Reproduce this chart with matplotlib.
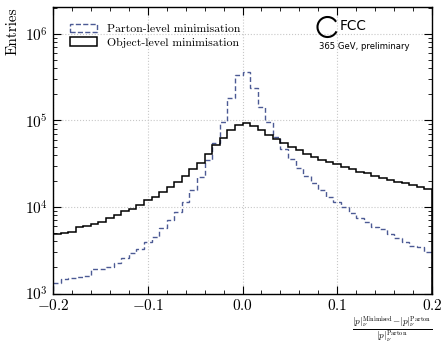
import numpy as np
import matplotlib
matplotlib.use("Agg")
import matplotlib.pyplot as plt
from matplotlib.patches import Arc, Patch
from matplotlib.ticker import MultipleLocator, LogLocator, NullFormatter

# ---- data ----
x_min, x_max, n_bins = -0.2, 0.2, 50
object_counts = [4830, 4970, 5180, 5820, 6080, 6360, 6710, 7470, 8090, 9070,
                 9560, 10600, 12050, 13150, 15030, 17170, 19600, 22800, 27300, 32500,
                 40600, 51600, 62200, 77100, 88700, 92900, 85800, 77700, 68500, 60700,
                 54500, 49400, 45200, 41300, 38200, 35200, 32900, 31200, 29000, 27300,
                 25400, 24500, 23000, 21800, 20500, 19600, 18800, 17900, 17000, 16000]
parton_counts = [1313, 1484, 1500, 1564, 1580, 1905, 1920, 2043, 2270, 2594,
                 2915, 3270, 3970, 4540, 5680, 7080, 8830, 11300, 15700, 22400,
                 34900, 54500, 95300, 180500, 336000, 361000, 235500, 144500, 95300, 65000,
                 46900, 35900, 28500, 22800, 19100, 15700, 13200, 11500, 9920, 8590,
                 7400, 6650, 5820, 5520, 4880, 4350, 3910, 3540, 3420, 2990]
labels = ["Parton-level minimisation", "Object-level minimisation"]
x_ticks = [-0.2, -0.1, 0.0, 0.1, 0.2]
x_tick_labels = [r"$-0.2$", r"$-0.1$", r"$0.0$", r"$0.1$", r"$0.2$"]

plt.rcParams.update({
    "font.family": "serif",
    "font.serif": ["cmr10", "DejaVu Serif"],
    "mathtext.fontset": "cm",
    "axes.formatter.use_mathtext": True,
    "axes.unicode_minus": True,
})

parton_color = "#4c5a94"

fig = plt.figure(figsize=(4.42, 3.43), dpi=100)
ax = fig.add_axes([53/442, 1-293.5/343, (432-53)/442, (293.5-7)/343])

edges = np.linspace(x_min, x_max, n_bins + 1)
ax.stairs(parton_counts, edges, color=parton_color, linestyle=(0, (3.5, 2)), linewidth=1.0)
ax.stairs(object_counts, edges, color="black", linewidth=1.1)

ax.set_yscale("log")
ax.set_xlim(x_min, x_max)
ax.set_ylim(1e3, 2.05e6)
ax.set_xticks(x_ticks)
ax.set_xticklabels(x_tick_labels)
ax.xaxis.set_minor_locator(MultipleLocator(0.02))
ax.yaxis.set_major_locator(LogLocator(base=10, numticks=10))
ax.yaxis.set_minor_locator(LogLocator(base=10, subs=np.arange(2, 10), numticks=20))
ax.yaxis.set_minor_formatter(NullFormatter())

ax.tick_params(which="both", direction="in", top=True, right=True, labelsize=11)
ax.tick_params(which="major", length=6, width=0.8)
ax.tick_params(which="minor", length=3, width=0.6)
for s in ax.spines.values():
    s.set_linewidth(1.0)
ax.grid(True, which="major", linestyle=":", color="#c8c8c8", linewidth=0.8)
ax.set_axisbelow(True)

ax.set_ylabel("Entries", loc="top", fontsize=11)
ax.set_xlabel(r"$\frac{|p|_\nu^{\mathrm{Minimised}}\!-\!|p|_\nu^{\mathrm{Parton}}}{|p|_\nu^{\mathrm{Parton}}}$",
              loc="right", fontsize=9.5, labelpad=1)

handles = [Patch(facecolor="none", edgecolor=parton_color, linestyle="--", linewidth=1.0),
           Patch(facecolor="none", edgecolor="black", linewidth=1.1)]
ax.legend(handles, labels, loc="upper left", frameon=False, fontsize=8.5, handlelength=2.3,
          handleheight=0.7, labelspacing=0.27, borderaxespad=1.04, handletextpad=0.85)

# FCC logo
arc = Arc((327.5/442, 1-27/343), 20/442, 20/343, theta1=38, theta2=328,
          transform=fig.transFigure, color="black", linewidth=1.5)
fig.add_artist(arc)
fig.text(340/442, 1-26.5/343, "FCC", fontsize=9.8, family="DejaVu Sans",
         va="center", ha="left")
fig.text(319/442, 1-46.5/343, "365 GeV, preliminary", fontsize=6.1, family="DejaVu Sans",
         va="center", ha="left")

fig.savefig("out.png", dpi=100)
